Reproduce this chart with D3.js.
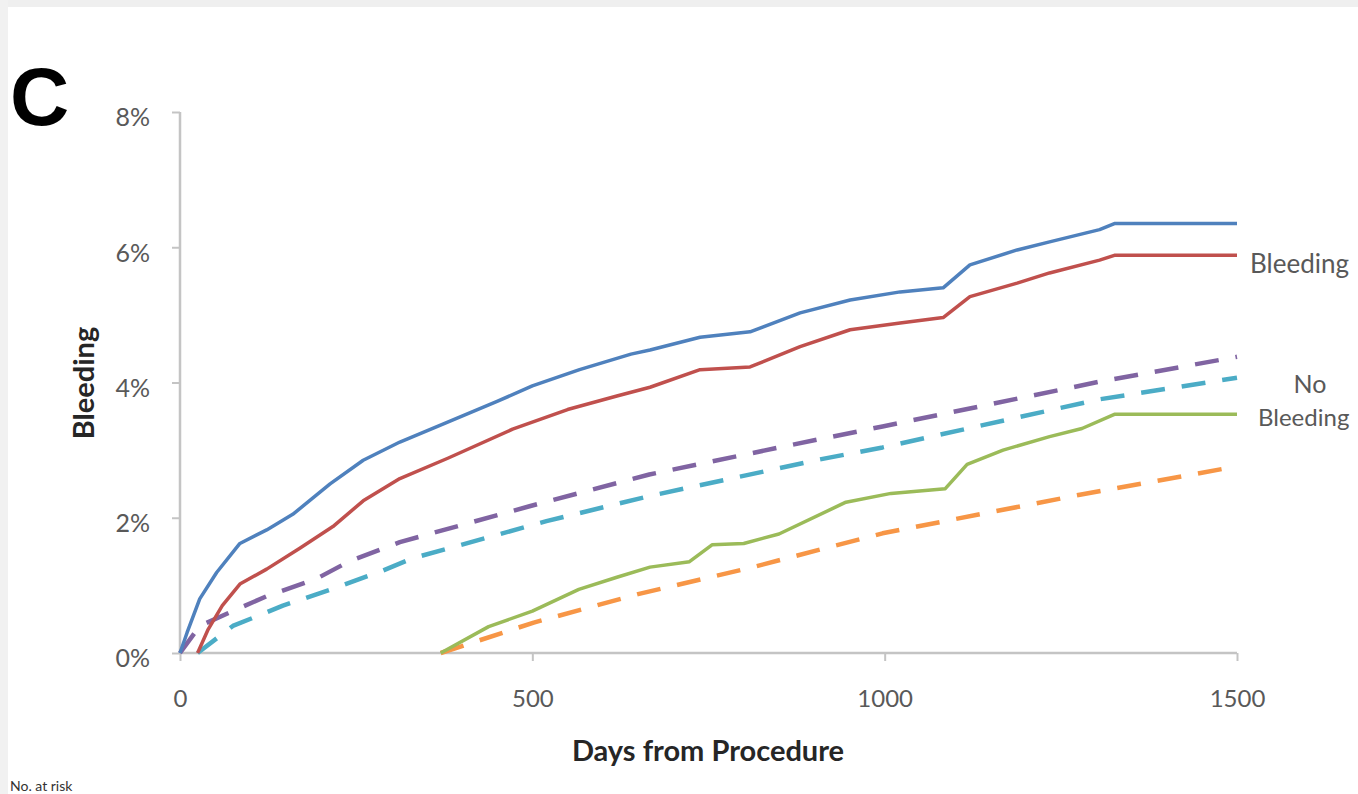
<!DOCTYPE html>
<html>
<head>
<meta charset="utf-8">
<script src="https://cdn.jsdelivr.net/npm/d3@7"></script>
<style>
  html, body { margin: 0; padding: 0; background: #fff; }
  svg { display: block; }
  .tick text { font-family: Lato, "Open Sans", sans-serif; fill: #595959; }
</style>
</head>
<body>
<div id="chart"></div>
<script>
// days from procedure vs cumulative bleeding (%)
var bleedHigh = [[0,0],[10,0.3],[28,0.8],[52,1.19],[85,1.62],[123,1.82],[160,2.05],[213,2.5],[260,2.85],[312,3.12],[379,3.41],[450,3.72],[500,3.95],[567,4.19],[640,4.42],[667,4.48],[738,4.67],[809,4.75],[880,5.03],[951,5.22],[1022,5.34],[1083,5.4],[1121,5.74],[1188,5.96],[1234,6.08],[1305,6.26],[1326,6.35],[1500,6.35]];
var bleedLow = [[25,0],[40,0.35],[60,0.7],[85,1.02],[123,1.24],[170,1.55],[217,1.87],[260,2.25],[312,2.58],[380,2.88],[472,3.31],[550,3.6],[620,3.8],[667,3.93],[738,4.19],[809,4.23],[880,4.53],[951,4.78],[1022,4.88],[1083,4.96],[1121,5.27],[1188,5.47],[1234,5.62],[1305,5.81],[1326,5.88],[1500,5.88]];
var noBleed = [[370,0],[438,0.39],[500,0.62],[566,0.94],[620,1.12],[667,1.27],[723,1.35],[755,1.6],[800,1.62],[850,1.76],[945,2.23],[1009,2.36],[1086,2.43],[1117,2.79],[1168,3.0],[1234,3.2],[1280,3.32],[1326,3.53],[1500,3.53]];
var bleedPredHigh = [[0,0],[28,0.4],[75,0.62],[123,0.84],[194,1.1],[241,1.36],[312,1.64],[496,2.17],[666,2.64],[869,3.08],[997,3.35],[1304,4.01],[1500,4.38]];
var bleedPredLow = [[25,0],[75,0.4],[146,0.7],[217,0.95],[288,1.22],[330,1.4],[520,1.95],[666,2.32],[907,2.86],[997,3.04],[1304,3.75],[1500,4.07]];
var noBleedPred = [[370,0],[502,0.45],[650,0.87],[813,1.27],[997,1.77],[1277,2.34],[1500,2.76]];

var xTicks = [0, 500, 1000, 1500];
var yTicks = [0, 2, 4, 6, 8];

var seriesList = [
  {data: bleedPredHigh, color: '#8064a2', dashed: true},
  {data: bleedPredLow, color: '#4bacc6', dashed: true},
  {data: noBleedPred, color: '#f79646', dashed: true},
  {data: noBleed, color: '#9bbb59', dashed: false},
  {data: bleedLow, color: '#c0504d', dashed: false},
  {data: bleedHigh, color: '#4f81bd', dashed: false}
];

var width = 1358, height = 794;
var font = 'Lato, "Open Sans", sans-serif';

var svg = d3.select('#chart').append('svg')
  .attr('width', width)
  .attr('height', height);

// light frame of the scanned panel
svg.append('rect').attr('x', 0).attr('y', 0).attr('width', width).attr('height', 7).attr('fill', '#efefef');
svg.append('rect').attr('x', 0).attr('y', 0).attr('width', 8).attr('height', height).attr('fill', '#f1f1f1');

var x = d3.scaleLinear().domain([0, 1500]).range([180, 1237]);
var y = d3.scaleLinear().domain([0, 8]).range([653, 112]);

// y axis
var yAxis = svg.append('g')
  .attr('transform', 'translate(180,0)')
  .call(d3.axisLeft(y).tickValues(yTicks).tickSize(8).tickPadding(22).tickFormat(function(d) { return d + '%'; }));
yAxis.selectAll('.tick text').attr('font-size', 25).attr('dy', '0.55em');

// x axis
var xAxis = svg.append('g')
  .attr('transform', 'translate(0,653)')
  .call(d3.axisBottom(x).tickValues(xTicks).tickSize(8).tickPadding(29).tickFormat(d3.format('d')));
xAxis.selectAll('.tick text').attr('font-size', 24);

svg.selectAll('.domain').attr('stroke', '#c4c4c4').attr('stroke-width', 2.5);
svg.selectAll('.tick line').attr('stroke', '#c4c4c4').attr('stroke-width', 2);
// excel style: no outer tick on the domain path ends
yAxis.select('.domain').attr('d', 'M0,' + y(8) + 'V' + y(0));
xAxis.select('.domain').attr('d', 'M' + x(0) + ',0H' + x(1500));

var line = d3.line()
  .x(function(d) { return x(d[0]); })
  .y(function(d) { return y(d[1]); });

svg.append('g').selectAll('path')
  .data(seriesList)
  .enter().append('path')
  .attr('d', function(d) { return line(d.data); })
  .attr('fill', 'none')
  .attr('stroke', function(d) { return d.color; })
  .attr('stroke-width', function(d) { return d.dashed ? 4.5 : 3.5; })
  .attr('stroke-dasharray', function(d) { return d.dashed ? '24,17' : null; })
  .attr('stroke-linejoin', 'round');

// panel letter
svg.append('text')
  .attr('x', 10).attr('y', 125)
  .style('font-family', '"Liberation Sans", Arial, sans-serif')
  .style('font-weight', 'bold')
  .style('font-size', '82px')
  .attr('fill', '#000')
  .text('C');

// axis titles
svg.append('text')
  .attr('transform', 'translate(94,383) rotate(-90)')
  .style('text-anchor', 'middle')
  .style('font-family', font)
  .style('font-weight', 'bold')
  .style('font-size', '29px')
  .attr('fill', '#262626')
  .text('Bleeding');

svg.append('text')
  .attr('x', 708).attr('y', 761)
  .style('text-anchor', 'middle')
  .style('font-family', font)
  .style('font-weight', 'bold')
  .style('font-size', '29px')
  .attr('fill', '#262626')
  .text('Days from Procedure');

// group labels at right
svg.append('text')
  .attr('x', 1250).attr('y', 273)
  .style('font-family', font).style('font-size', '26px')
  .attr('fill', '#595959')
  .text('Bleeding');
svg.append('text')
  .attr('x', 1310).attr('y', 393)
  .style('text-anchor', 'middle')
  .style('font-family', font).style('font-size', '25px')
  .attr('fill', '#595959')
  .text('No');
svg.append('text')
  .attr('x', 1258).attr('y', 426)
  .style('font-family', font).style('font-size', '24px')
  .attr('fill', '#595959')
  .text('Bleeding');

// table header below the chart (mostly cut off in the source)
svg.append('text')
  .attr('x', 10).attr('y', 791)
  .style('font-family', font).style('font-size', '14px')
  .attr('fill', '#333')
  .text('No. at risk');
</script>
</body>
</html>
